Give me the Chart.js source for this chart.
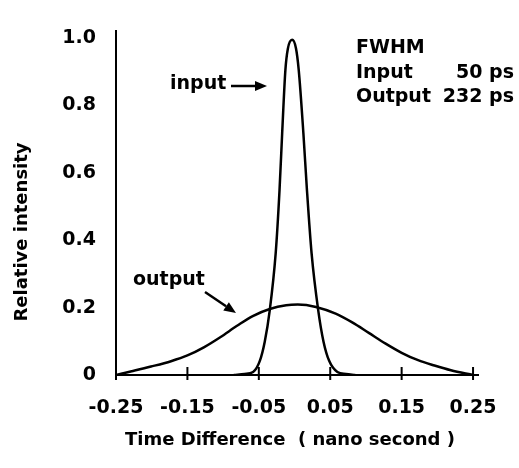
<!DOCTYPE html>
<html>
<head>
<meta charset="utf-8">
<script src="https://cdn.jsdelivr.net/npm/chart.js@4"></script>
<style>
  html, body { margin: 0; padding: 0; background: #fff; }
  #wrap { width: 519px; height: 468px; }
</style>
</head>
<body>
<div id="wrap"><canvas id="myChart"></canvas></div>
<script>
// values (time in ns, relative intensity)
var inputTime = [-0.085, -0.07, -0.058, -0.0486, -0.0417, -0.0347, -0.0264, -0.021, -0.0173, -0.0128, -0.0094, -0.0034,
                 0.002, 0.0059, 0.0124, 0.0174, 0.0239, 0.0332, 0.0406, 0.0485, 0.060, 0.072, 0.085];
var inputIntensity = [0, 0.003, 0.009, 0.042, 0.099, 0.192, 0.361, 0.549, 0.718, 0.905, 0.968, 0.995,
                      0.970, 0.905, 0.718, 0.549, 0.361, 0.192, 0.099, 0.042, 0.009, 0.003, 0];

var outputTime = [-0.25, -0.228, -0.201, -0.173, -0.150, -0.127, -0.104, -0.0805, -0.0585, -0.0347, -0.0117,
                  0.0045, 0.030, 0.0576, 0.0808, 0.104, 0.127, 0.150, 0.173, 0.196, 0.219, 0.25];
var outputIntensity = [0.0, 0.011, 0.025, 0.041, 0.058, 0.082, 0.112, 0.146, 0.175, 0.196, 0.207,
                       0.209, 0.202, 0.182, 0.156, 0.125, 0.094, 0.066, 0.044, 0.028, 0.014, 0.0];

var xTicks = [-0.25, -0.15, -0.05, 0.05, 0.15, 0.25];
var xTickLabels = ['-0.25', '-0.15', '-0.05', '0.05', '0.15', '0.25'];
var yTicks = [0, 0.2, 0.4, 0.6, 0.8, 1.0];
var yTickLabels = ['0', '0.2', '0.4', '0.6', '0.8', '1.0'];

function toPoints(xs, ys) {
  return xs.map(function (x, i) { return { x: x, y: ys[i] }; });
}

var boldFont = '"DejaVu Sans", Arial, sans-serif';

// tick marks crossing the x axis, axis titles and the text notes
var extras = {
  id: 'extras',
  afterDatasetsDraw: function (chart) {
    var c = chart.ctx;
    var xs = chart.scales.x, ys = chart.scales.y;
    var y0 = ys.getPixelForValue(0);
    c.save();
    c.strokeStyle = '#000';
    c.lineWidth = 2;
    xTicks.forEach(function (v) {
      var px = xs.getPixelForValue(v);
      c.beginPath();
      c.moveTo(px, y0 - 8);
      c.lineTo(px, y0 + 5);
      c.stroke();
    });

    c.fillStyle = '#000';
    c.textBaseline = 'middle';
    c.textAlign = 'center';
    c.font = 'bold 18px ' + boldFont;
    c.fillText('Time Difference  ( nano second )', 290, 440);

    c.save();
    c.translate(22, 232);
    c.rotate(-Math.PI / 2);
    c.fillText('Relative intensity', 0, 0);
    c.restore();

    c.font = 'bold 19px ' + boldFont;
    c.textAlign = 'left';
    c.fillText('FWHM', 356, 48);
    c.fillText('Input', 356, 73);
    c.fillText('Output', 356, 97);
    c.textAlign = 'right';
    c.fillText('50 ps', 514, 73);
    c.fillText('232 ps', 514, 97);

    c.textAlign = 'left';
    c.fillText('input', 170, 84);
    c.fillText('output', 133, 280);

    // arrows
    function arrow(x1, y1, x2, y2) {
      var a = Math.atan2(y2 - y1, x2 - x1);
      var hl = 12, hw = 5;
      c.beginPath();
      c.moveTo(x1, y1);
      c.lineTo(x2 - hl * Math.cos(a), y2 - hl * Math.sin(a));
      c.stroke();
      c.beginPath();
      c.moveTo(x2, y2);
      c.lineTo(x2 - hl * Math.cos(a) + hw * Math.sin(a), y2 - hl * Math.sin(a) - hw * Math.cos(a));
      c.lineTo(x2 - hl * Math.cos(a) - hw * Math.sin(a), y2 - hl * Math.sin(a) + hw * Math.cos(a));
      c.closePath();
      c.fill();
    }
    c.lineWidth = 2.5;
    arrow(231, 86, 267, 86);
    arrow(205, 292, 236, 313);
    c.restore();
  }
};

var ctx = document.getElementById('myChart').getContext('2d');
var myChart = new Chart(ctx, {
  type: 'scatter',
  data: {
    datasets: [{
      label: 'input',
      data: toPoints(inputTime, inputIntensity),
      showLine: true,
      borderColor: '#000',
      borderWidth: 2.5,
      pointRadius: 0,
      cubicInterpolationMode: 'monotone'
    }, {
      label: 'output',
      data: toPoints(outputTime, outputIntensity),
      showLine: true,
      borderColor: '#000',
      borderWidth: 2.5,
      pointRadius: 0,
      cubicInterpolationMode: 'monotone'
    }]
  },
  options: {
    responsive: true,
    maintainAspectRatio: false,
    animation: false,
    layout: { padding: { top: 13, right: 37, bottom: 0, left: 0 } },
    plugins: {
      legend: { display: false },
      tooltip: { enabled: false }
    },
    scales: {
      x: {
        min: -0.25,
        max: 0.257,
        afterBuildTicks: function (scale) {
          scale.ticks = xTicks.map(function (v) { return { value: v }; });
        },
        afterFit: function (scale) { scale.height = 93; },
        grid: { display: false, drawTicks: false },
        border: { display: true, color: '#000', width: 2 },
        ticks: {
          padding: 22,
          color: '#000',
          font: { family: boldFont, size: 19, weight: 'bold' },
          callback: function (v) {
            var i = xTicks.indexOf(v);
            return i >= 0 ? xTickLabels[i] : '';
          }
        }
      },
      y: {
        min: 0,
        max: 1.02,
        afterBuildTicks: function (scale) {
          scale.ticks = yTicks.map(function (v) { return { value: v }; });
        },
        afterFit: function (scale) { scale.width = 116; },
        grid: { display: false, drawTicks: false },
        border: { display: true, color: '#000', width: 2 },
        ticks: {
          padding: 20,
          color: '#000',
          font: { family: boldFont, size: 19, weight: 'bold' },
          callback: function (v) {
            var i = yTicks.indexOf(v);
            return i >= 0 ? yTickLabels[i] : '';
          }
        }
      }
    }
  },
  plugins: [extras]
});
</script>
</body>
</html>
